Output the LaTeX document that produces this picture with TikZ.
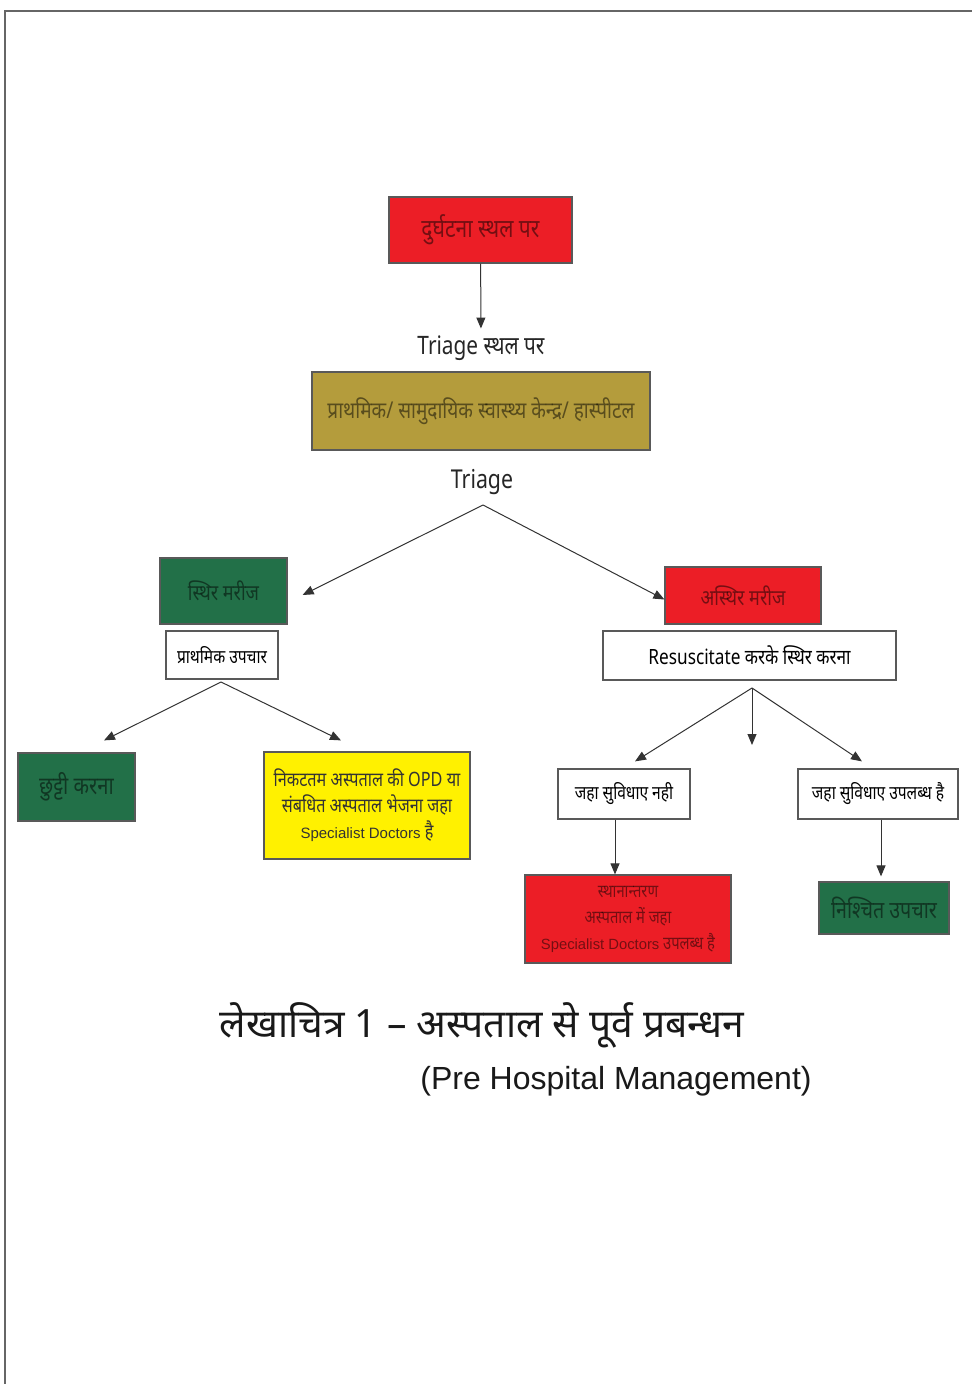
\documentclass[tikz,border=0pt]{standalone}
\usepackage{fontspec}
\setmainfont{Noto Sans}[Script=Devanagari]
\newfontfamily\narrowfont[Script=Devanagari,FakeStretch=0.82]{Noto Sans}
\newfontfamily\arialfont{Liberation Sans}
\usetikzlibrary{arrows.meta}

\definecolor{boxred}{RGB}{236,30,38}
\definecolor{boxgreen}{RGB}{34,112,72}
\definecolor{boxolive}{RGB}{180,156,60}
\definecolor{boxyellow}{RGB}{255,241,0}

\tikzset{
  box/.style={draw=black!65, line width=0.6pt, inner sep=0pt, align=center,
    font=\narrowfont\fontsize{11}{13}\selectfont},
  colbox/.style={box, text opacity=0.5},
  flow/.style={->, line width=0.5pt, black!80}
}

\begin{document}
\begin{tikzpicture}[x=0.5pt, y=-0.5pt, >={Triangle[length=5.5pt,width=4.5pt]}]

  \useasboundingbox (0,0) rectangle (972,1384);

  % Frame
  \draw[black!60, line width=0.8pt] (5,1384) -- (5,11) -- (972,11);

  % Accident site
  \node[colbox, fill=boxred, minimum width=91.5pt, minimum height=33pt, font=\narrowfont\fontsize{12.8}{15}\selectfont] (accident) at (480.5,230) {दुर्घटना स्थल पर};
  \node[font=\narrowfont\fontsize{12.7}{15}\selectfont, text=black!85] (triage1) at (481,348) {Triage स्थल पर};
  \node[colbox, fill=boxolive, minimum width=169pt, minimum height=39pt, font=\narrowfont\fontsize{11.6}{14}\selectfont] (centre) at (481,411) {प्राथमिक/ सामुदायिक स्वास्थ्य केन्द्र/ हास्पीटल};
  \node[font=\narrowfont\fontsize{13}{16}\selectfont, text=black!85] (triage2) at (482,482) {Triage};
  \coordinate (split1) at (483,505);

  % Stable patient
  \node[colbox, fill=boxgreen, minimum width=63.5pt, minimum height=33pt] (stable) at (223.5,591) {स्थिर मरीज};
  \node[box, fill=white, minimum width=56pt, minimum height=24pt, font=\narrowfont\fontsize{9.5}{11}\selectfont] (firstaid) at (222,655) {प्राथमिक उपचार};
  \coordinate (split2) at (221,682);
  \node[colbox, fill=boxgreen, minimum width=58.5pt, minimum height=34pt, font=\narrowfont\fontsize{12.3}{14}\selectfont] (discharge) at (76.5,787) {छुट्टी करना};
  \node[box, fill=boxyellow, text=black!80, minimum width=103pt, minimum height=53.5pt, font=\narrowfont\fontsize{9.9}{13}\selectfont] (opd) at (367,805.5) {निकटतम अस्पताल की OPD या\\ संबधित अस्पताल भेजना जहा\\ {\arialfont\fontsize{7.5}{13}\selectfont Specialist Doctors} है};

  % Unstable patient
  \node[colbox, fill=boxred, minimum width=78pt, minimum height=28.5pt] (unstable) at (743,595.5) {अस्थिर मरीज};
  \node[box, fill=white, minimum width=146.5pt, minimum height=24.5pt, font=\narrowfont\fontsize{10.5}{13}\selectfont] (resus) at (749.5,655.5) {Resuscitate करके स्थिर करना};
  \coordinate (split3) at (752,688);
  \coordinate (down3) at (752,745);
  \node[box, fill=white, minimum width=66pt, minimum height=25pt, font=\narrowfont\fontsize{9.5}{11}\selectfont] (nofacility) at (624,794) {जहा सुविधाए नही};
  \node[box, fill=white, minimum width=80pt, minimum height=25pt, font=\narrowfont\fontsize{9.5}{11}\selectfont] (facility) at (878,794) {जहा सुविधाए उपलब्ध है};
  \node[colbox, fill=boxred, minimum width=103pt, minimum height=44pt, font=\narrowfont\fontsize{9}{13}\selectfont] (transfer) at (628,919) {स्थानान्तरण\\ अस्पताल में जहा\\ {\arialfont\fontsize{7.4}{13}\selectfont Specialist Doctors} उपलब्ध है};
  \node[colbox, fill=boxgreen, minimum width=65pt, minimum height=26pt, font=\narrowfont\fontsize{12}{14}\selectfont] (definitive) at (884,908) {निश्चित उपचार};

  % Connecting
  \draw[flow] (accident) -- (triage1);
  \draw[flow] (split1) -- ([xshift=7.5pt,yshift=-2pt]stable.east);
  \draw[flow] (split1) -- ([yshift=-2pt]unstable.west);
  \draw[flow] (split2) -- ([xshift=13.75pt,yshift=6pt]discharge.north);
  \draw[flow] (split2) -- ([xshift=-13pt,yshift=5.5pt]opd.north);
  \draw[flow] (split3) -- ([xshift=5.5pt,yshift=3.5pt]nofacility.north);
  \draw[flow] (split3) -- (down3);
  \draw[flow] (split3) -- ([xshift=-8pt,yshift=3.5pt]facility.north);
  \draw[flow] ([xshift=-4.5pt]nofacility.south) -- ([xshift=-6.5pt]transfer.north);
  \draw[flow] ([xshift=1.5pt]facility.south) -- ([xshift=-1.5pt,yshift=2.5pt]definitive.north);

  % Caption
  \node[font=\fontsize{19.5}{22}\selectfont, text=black!90] (caption) at (482,1025) {लेखाचित्र 1 – अस्पताल से पूर्व प्रबन्धन};
  \node[font=\arialfont\fontsize{16}{18}\selectfont, text=black!90] (english) at (616,1081) {(Pre Hospital Management)};

\end{tikzpicture}
\end{document}
